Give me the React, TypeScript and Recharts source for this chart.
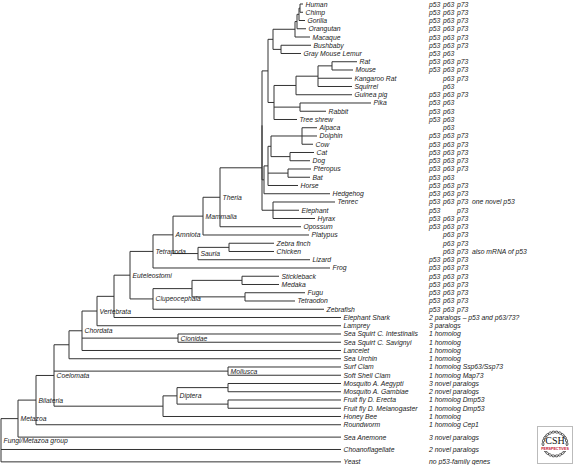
import React from "react";
import { ComposedChart, XAxis, YAxis, ReferenceLine, Scatter } from "recharts";

// leaves, top to bottom
const leafNames = [
  "Human", "Chimp", "Gorilla", "Orangutan", "Macaque", "Bushbaby", "Gray Mouse Lemur",
  "Rat", "Mouse", "Kangaroo Rat", "Squirrel", "Guinea pig", "Pika", "Rabbit", "Tree shrew",
  "Alpaca", "Dolphin", "Cow", "Cat", "Dog", "Pteropus", "Bat", "Horse", "Hedgehog",
  "Tenrec", "Elephant", "Hyrax", "Opossum", "Platypus", "Zebra finch", "Chicken", "Lizard",
  "Frog", "Stickleback", "Medaka", "Fugu", "Tetraodon", "Zebrafish", "Elephant Shark",
  "Lamprey", "Sea Squirt C. Intestinalis", "Sea Squirt C. Savignyi", "Lancelet", "Sea Urchin",
  "Surf Clam", "Soft Shell Clam", "Mosquito A. Aegypti", "Mosquito A. Gambiae",
  "Fruit fly D. Erecta", "Fruit fly D. Melanogaster", "Honey Bee", "Roundworm",
  "Sea Anemone", "Choanoflagellate", "Yeast",
];

const leafRows = [
  0, 1, 2, 3, 4, 5, 6, 7, 8, 9, 10, 11, 12, 13, 14, 15, 16, 17, 18, 19, 20, 21, 22, 23,
  24, 25, 26, 27, 28, 29, 30, 31, 32, 33, 34, 35, 36, 37, 38, 39, 40, 41, 42, 43, 44, 45,
  46, 47, 48, 49, 50, 51, 52.5, 54, 55.5,
];

// branch tip (distance from root)
const leafTips = [
  303, 303, 305, 306, 310, 311, 301, 357, 353, 352, 352, 352, 371, 326, 297,
  317, 317, 313, 314, 310, 311, 310, 298, 330, 335, 299, 315, 301, 309, 274, 274, 310,
  330, 279, 279, 305, 295, 324, 341, 341, 341, 341, 341, 341, 341, 341, 341, 341,
  341, 341, 341, 341, 341, 341, 341,
];

const geneNotes = [
  "p53 p63 p73", "p53 p63 p73", "p53 p63 p73", "p53 p63 p73", "p53 p63 p73", "p53 p63 p73",
  "p53 p63", "p53 p63 p73", "p53 p63 p73", "p63 p73", "p63", "p53 p63 p73", "p53 p63",
  "p53 p63", "p53 p63", "p63", "p53 p63 p73", "p53 p63 p73", "p53 p63 p73", "p53 p63 p73",
  "p53 p63 p73", "p53 p63", "p53 p63 p73", "p53 p63 p73", "p53 p63 p73 one novel p53",
  "p53 p73", "p53 p63 p73", "p53 p63 p73", "p63 p73", "p63 p73", "p63 p73 also mRNA of p53",
  "p53 p63 p73", "p53 p63 p73", "p53 p63 p73", "p53 p63 p73", "p53 p63 p73", "p53 p63 p73",
  "p53 p63 p73", "2 paralogs \u2013 p53 and p63/73?", "3 paralogs", "1 homolog", "1 homolog",
  "1 homolog", "1 homolog", "1 homolog Ssp63/Ssp73", "1 homolog Map73", "3 novel paralogs",
  "2 novel paralogs", "1 homolog Dmp53", "1 homolog Dmp53", "1 homolog", "1 homolog Cep1",
  "3 novel paralogs", "2 novel paralogs", "no p53-family genes",
];

// [id, branch point, children, label]
const clades: [string, number, string[], string][] = [
  ["hc", 300, ["Human", "Chimp"], ""],
  ["hcg", 299, ["hc", "Gorilla"], ""],
  ["hominidae", 297, ["hcg", "Orangutan"], ""],
  ["catarrhini", 295, ["hominidae", "Macaque"], ""],
  ["strepsirrhini", 281, ["Bushbaby", "Gray Mouse Lemur"], ""],
  ["primates", 273, ["catarrhini", "strepsirrhini"], ""],
  ["ratmouse", 332, ["Rat", "Mouse"], ""],
  ["muroid", 318, ["ratmouse", "Kangaroo Rat", "Squirrel"], ""],
  ["rodentia", 296, ["muroid", "Guinea pig"], ""],
  ["lagomorpha", 300, ["Pika", "Rabbit"], ""],
  ["glires", 274, ["rodentia", "lagomorpha", "Tree shrew"], ""],
  ["euarchontoglires", 268, ["primates", "glires"], ""],
  ["cetartiodactyla", 302, ["Alpaca", "Dolphin", "Cow"], ""],
  ["carnivora", 290, ["Cat", "Dog"], ""],
  ["chiroptera", 288, ["Pteropus", "Bat"], ""],
  ["cetcarn", 271, ["cetartiodactyla", "carnivora"], ""],
  ["scrotifera", 268, ["cetcarn", "chiroptera", "Horse"], ""],
  ["laurasiatheria", 264, ["scrotifera", "Hedgehog"], ""],
  ["afrotheria", 273, ["Tenrec", "Elephant", "Hyrax"], ""],
  ["boreoeutheria", 262, ["euarchontoglires", "laurasiatheria"], ""],
  ["eutheria", 262, ["boreoeutheria", "afrotheria"], ""],
  ["theria", 220, ["eutheria", "Opossum"], "Theria"],
  ["mammalia", 203, ["theria", "Platypus"], "Mammalia"],
  ["birds", 229, ["Zebra finch", "Chicken"], ""],
  ["sauria", 198, ["birds", "Lizard"], "Sauria"],
  ["amniota", 173, ["mammalia", "sauria"], "Amniota"],
  ["tetrapoda", 153, ["amniota", "Frog"], "Tetrapoda"],
  ["stickmed", 242, ["Stickleback", "Medaka"], ""],
  ["fugutet", 245, ["Fugu", "Tetraodon"], ""],
  ["acanth", 192, ["stickmed", "fugutet"], ""],
  ["clupeocephala", 153, ["acanth", "Zebrafish"], "Clupeocephala"],
  ["euteleostomi", 130, ["tetrapoda", "clupeocephala"], "Euteleostomi"],
  ["gnathostomata", 114, ["euteleostomi", "Elephant Shark"], ""],
  ["vertebrata", 97, ["gnathostomata", "Lamprey"], "Vertebrata"],
  ["cionidae", 178, ["Sea Squirt C. Intestinalis", "Sea Squirt C. Savignyi"], "Cionidae"],
  ["chordata", 82, ["vertebrata", "cionidae", "Lancelet"], "Chordata"],
  ["deuterostomia", 69, ["chordata", "Sea Urchin"], ""],
  ["mollusca", 228, ["Surf Clam", "Soft Shell Clam"], "Mollusca"],
  ["mosquito", 228, ["Mosquito A. Aegypti", "Mosquito A. Gambiae"], ""],
  ["fruitfly", 228, ["Fruit fly D. Erecta", "Fruit fly D. Melanogaster"], ""],
  ["diptera", 177, ["mosquito", "fruitfly"], "Diptera"],
  ["arthropoda", 163, ["diptera", "Honey Bee"], ""],
  ["coelomata", 54, ["deuterostomia", "mollusca", "arthropoda"], "Coelomata"],
  ["bilateria", 36, ["coelomata", "Roundworm"], "Bilateria"],
  ["metazoa", 18, ["bilateria", "Sea Anemone"], "Metazoa"],
  ["root", 1, ["metazoa", "Choanoflagellate", "Yeast"], "Fungi/Metazoa group"],
];

const geneCols: Record<string, number> = { p53: 429, p63: 443, p73: 457 };
const NOTE_X = 429;
const EXTRA_X = 472;
const FONT = '"Liberation Sans", Arial, Helvetica, sans-serif';
const INK = "#1a1a1a";

const rowOf: Record<string, number> = {};
const xOf: Record<string, number> = {};
leafNames.forEach((n, i) => {
  rowOf[n] = leafRows[i];
  xOf[n] = leafTips[i];
});
const cladeMap = new Map(clades.map((c) => [c[0], c]));
clades.forEach((c) => (xOf[c[0]] = c[1]));

function yOf(id: string): number {
  if (id in rowOf) return rowOf[id];
  const kids = cladeMap.get(id)![2].map(yOf);
  rowOf[id] = (kids[0] + kids[kids.length - 1]) / 2;
  return rowOf[id];
}

type Pt = { x: number; y: number };
const segments: [Pt, Pt][] = [];
clades.forEach(([, x, kids]) => {
  const ys = kids.map(yOf);
  segments.push([{ x, y: ys[0] }, { x, y: ys[ys.length - 1] }]);
  kids.forEach((k, i) => {
    if (xOf[k] > x) segments.push([{ x, y: ys[i] }, { x: xOf[k], y: ys[i] }]);
  });
});

const leafPts = leafNames.map((n, i) => ({ x: leafTips[i] + 2.5, y: leafRows[i], text: n }));
const cladePts = clades
  .filter((c) => c[3])
  .map((c) => ({ x: c[1] + 2.5, y: yOf(c[0]), text: c[3] }));

const notePts: { x: number; y: number; text: string }[] = [];
geneNotes.forEach((note, i) => {
  const toks = note.split(" ");
  if (!(toks[0] in geneCols)) {
    notePts.push({ x: NOTE_X, y: leafRows[i], text: note });
    return;
  }
  let k = 0;
  while (k < toks.length && toks[k] in geneCols) {
    notePts.push({ x: geneCols[toks[k]], y: leafRows[i], text: toks[k] });
    k++;
  }
  if (k < toks.length) notePts.push({ x: EXTRA_X, y: leafRows[i], text: toks.slice(k).join(" ") });
});

const TextMark = (p: any) => (
  <text
    x={p.cx}
    y={p.cy}
    dominantBaseline="central"
    fontFamily={FONT}
    fontStyle="italic"
    fontSize={6.8}
    fill={INK}
  >
    {p.payload.text}
  </text>
);

function Logo() {
  const dots = Array.from({ length: 22 }, (_, i) => (i / 22) * Math.PI * 2);
  return (
    <svg width={36} height={38} style={{ position: "absolute", left: 537, top: 426 }}>
      <rect x={0.5} y={0.5} width={35} height={37} fill="#fff" stroke="#bbb" />
      {dots.map((a, i) => (
        <ellipse
          key={i}
          cx={18 + Math.cos(a) * 12}
          cy={18 + Math.sin(a) * 12}
          rx={1.6}
          ry={1}
          transform={`rotate(${(a * 180) / Math.PI + 90} ${18 + Math.cos(a) * 12} ${18 + Math.sin(a) * 12})`}
          fill="none"
          stroke="#222"
          strokeWidth={0.7}
        />
      ))}
      <rect x={3} y={20} width={30} height={5} fill="#fff" />
      <text x={18} y={18} textAnchor="middle" fontFamily="'Liberation Serif', serif" fontSize={10} fill="#111">
        CSH
      </text>
      <text x={18} y={24} textAnchor="middle" fontFamily={FONT} fontWeight="bold" fontSize={3.6} fill="#c4122f">
        PERSPECTIVES
      </text>
    </svg>
  );
}

export default function App() {
  return (
    <div style={{ position: "absolute", left: 0, top: 0, width: 576, height: 465, background: "#fff" }}>
      <ComposedChart width={576} height={465} margin={{ top: 0, right: 0, bottom: 0, left: 0 }}>
        <XAxis type="number" dataKey="x" domain={[0, 576]} allowDataOverflow hide />
        <YAxis type="number" dataKey="y" domain={[-0.485, 55.88]} allowDataOverflow reversed hide />
        {segments.map((s, i) => (
          <ReferenceLine key={i} segment={s} stroke="#333" strokeWidth={1} ifOverflow="visible" />
        ))}
        <Scatter data={leafPts} shape={TextMark} isAnimationActive={false} />
        <Scatter data={cladePts} shape={TextMark} isAnimationActive={false} />
        <Scatter data={notePts} shape={TextMark} isAnimationActive={false} />
      </ComposedChart>
      <Logo />
    </div>
  );
}
